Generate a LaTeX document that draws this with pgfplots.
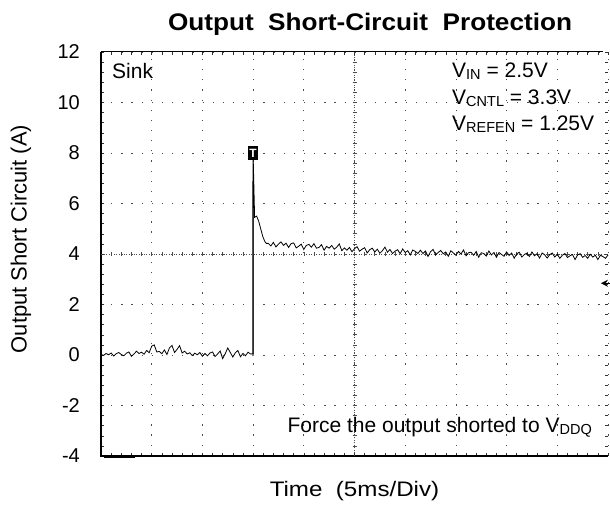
\documentclass[border=0pt]{standalone}
\usepackage{pgfplots}
\pgfplotsset{compat=1.18}
\usepackage{fontspec}
\setmainfont{Liberation Sans}
\usetikzlibrary{arrows.meta}
\newcommand\fs[1]{\fontsize{#1bp}{#1bp}\selectfont}
\newcommand\sub[1]{\raisebox{-1.8bp}{\fs{14.5}#1}}
\begin{document}
\begin{tikzpicture}
\path[use as bounding box] (0,0) rectangle (610bp,505bp);
\begin{axis}[
  at={(101bp,49bp)}, anchor=south west,
  width=507bp, height=404bp, scale only axis,
  xmin=0, xmax=50, ymin=-4, ymax=12,
  xtick={0,5,...,50}, xticklabels={},
  ytick={-4,-2,...,12}, yticklabels={-4,-2,0,2,4,6,8,10,12},
  minor x tick num=4, minor y tick num=4,
  tick align=inside, major tick length=3bp, minor tick length=3bp,
  tick style={black!80, line width=0.5bp},
  grid=major,
  major grid style={black!70, line width=0.7bp, dash pattern=on 1.2bp off 8.95bp},
  axis line style={draw=none},
  yticklabel style={font=\fs{20}, inner sep=0pt, xshift=-21bp},
  clip=false,
]
\draw[black, line width=1.2bp] (rel axis cs:0,1) -- (rel axis cs:0,0) -- (rel axis cs:1,0);
\draw[black, line width=1bp] (rel axis cs:0,1) -- (rel axis cs:0.99,1);
\draw[black!70, line width=0.7bp, dash pattern=on 1bp off 1.5bp] (axis cs:0,4) -- (axis cs:50,4);
\draw[black!70, line width=0.7bp, dash pattern=on 1bp off 1.5bp] (axis cs:25,-4) -- (axis cs:25,12);
\pgfplotsinvokeforeach{1,2,...,49}{\draw[black!70, line width=0.6bp] ([yshift=-2bp]axis cs:#1,4) -- ([yshift=2bp]axis cs:#1,4);}
\pgfplotsinvokeforeach{-3.6,-3.2,...,11.8}{\draw[black!70, line width=0.6bp] ([xshift=-2bp]axis cs:25,#1) -- ([xshift=2bp]axis cs:25,#1);}

\addplot[black!50, line width=2.2bp] coordinates {(15,-0.05) (15,6.9)};
\addplot[black, line width=0.8bp] coordinates {
(0,0.03) (0.25,-0.02) (0.5,0.06) (0.75,0.01) (1,0.08) (1.25,-0.04) (1.5,0.05) (1.75,0.10) (2,0.02) (2.25,-0.03)
(2.5,0.07) (2.75,0.12) (3,-0.05) (3.25,0.04) (3.5,0.15) (3.75,0.06) (4,0.11) (4.25,0.03) (4.5,0.18) (4.75,0.09)
(5,0.35) (5.25,0.40) (5.5,0.12) (5.75,0.14) (6,0.05) (6.25,0.20) (6.5,0.02) (6.75,0.28) (7,0.38) (7.25,0.10)
(7.5,0.22) (7.75,0.37) (8,0.08) (8.25,0.15) (8.5,0.04) (8.75,0.09) (9,-0.02) (9.25,0.07) (9.5,0.01) (9.75,0.10)
(10,-0.05) (10.25,0.06) (10.5,-0.03) (10.75,0.08) (11,0.12) (11.25,-0.06) (11.5,0.04) (11.75,0.16) (12,-0.14) (12.25,0.05)
(12.5,0.28) (12.75,0.10) (13,-0.08) (13.25,0.09) (13.5,0.18) (13.75,-0.07) (14,0.06) (14.25,-0.03) (14.5,0.11) (14.75,0.04)
(15,0.05)
(15,8.0) (15.15,5.45) (15.35,5.5) (15.55,5.3) (15.75,5.0) (15.95,4.7) (16.15,4.5) (16.3,4.42)
(16.5,4.42) (16.75,4.32) (17,4.46) (17.25,4.28) (17.5,4.39) (17.75,4.48) (18,4.34) (18.25,4.43) (18.5,4.26) (18.75,4.41)
(19,4.44) (19.25,4.24) (19.5,4.31) (19.75,4.39) (20,4.18) (20.25,4.34) (20.5,4.38) (20.75,4.27) (21,4.41) (21.25,4.23)
(21.5,4.26) (21.75,4.37) (22,4.15) (22.25,4.30) (22.5,4.23) (22.75,4.34) (23,4.19) (23.25,4.27) (23.5,4.40) (23.75,4.13)
(24,4.24) (24.25,4.15) (24.5,4.26) (24.75,4.09) (25,4.21) (25.25,4.29) (25.5,4.11) (25.75,4.19) (26,4.25) (26.25,4.04)
(26.5,4.17) (26.75,4.23) (27,4.08) (27.25,4.19) (27.5,4.03) (27.75,4.13) (28,4.27) (28.25,4.07) (28.5,4.18) (28.75,4.02)
(29,4.11) (29.25,4.17) (29.5,4.01) (29.75,4.20) (30,4.06) (30.25,4.13) (30.5,3.96) (30.75,4.16) (31,4.10) (31.25,4.02)
(31.5,4.15) (31.75,4.02) (32,4.12) (32.25,3.90) (32.5,4.09) (32.75,4.18) (33,3.97) (33.25,4.06) (33.5,4.14) (33.75,4.01)
(34,4.08) (34.25,3.91) (34.5,4.13) (34.75,4.04) (35,3.95) (35.25,4.10) (35.5,4.00) (35.75,4.16) (36,3.93) (36.25,4.05)
(36.5,4.07) (36.75,3.95) (37,4.10) (37.25,3.87) (37.5,4.05) (37.75,4.02) (38,3.92) (38.25,4.12) (38.5,3.96) (38.75,4.06)
(39,3.87) (39.25,4.06) (39.5,3.98) (39.75,3.91) (40,4.08) (40.25,3.94) (40.5,4.04) (40.75,3.83) (41,4.01) (41.25,4.07)
(41.5,3.88) (41.75,3.98) (42,4.03) (42.25,3.90) (42.5,4.08) (42.75,3.93) (43,4.01) (43.25,3.84) (43.5,4.04) (43.75,3.97)
(44,3.84) (44.25,3.97) (44.5,4.04) (44.75,3.88) (45,3.99) (45.25,3.83) (45.5,3.95) (45.75,4.02) (46,3.86) (46.25,3.93)
(46.5,3.98) (46.75,3.78) (47,3.96) (47.25,4.01) (47.5,3.87) (47.75,3.94) (48,3.83) (48.25,3.99) (48.5,3.88) (48.75,3.95)
(49,3.78) (49.25,3.95) (49.5,3.90) (49.75,3.83) (50,3.96)
};
\node[fill=black, text=white, inner sep=0pt, minimum width=10bp, minimum height=14bp, font=\bfseries\fs{12}] at (axis cs:15,8) {T};
\draw[-{Stealth[length=7bp,width=7bp]}, line width=1.2bp] (axis cs:50.4,2.84) -- (axis cs:49.3,2.84);
\draw[line width=1.6bp] (axis cs:0.3,-4.05) -- (axis cs:3.4,-4.05);
\end{axis}
\node[anchor=base, font=\bfseries\fs{24}] at (370bp,474bp) {\scalebox{1.09}[1]{Output\ \ Short-Circuit\ \ Protection}};
\node[anchor=base west, font=\fs{21}, inner sep=0pt] at (112bp,426bp) {Sink};
\node[anchor=base west, font=\fs{21}, inner sep=0pt] at (452bp,427bp) {V\sub{IN} = 2.5V};
\node[anchor=base west, font=\fs{21}, inner sep=0pt] at (452bp,400bp) {V\sub{CNTL} = 3.3V};
\node[anchor=base west, font=\fs{21}, inner sep=0pt] at (452bp,374bp) {V\sub{REFEN} = 1.25V};
\node[anchor=base east, font=\fs{21}, inner sep=0pt] at (592bp,72bp) {Force the output shorted to V\sub{DDQ}};
\node[anchor=base, font=\fs{21}, inner sep=0pt] at (354.5bp,9bp) {\scalebox{1.15}[1]{Time\ \ (5ms/Div)}};
\node[rotate=90, font=\fs{22}, inner sep=0pt] at (21bp,266bp) {Output Short Circuit (A)};
\end{tikzpicture}
\end{document}
